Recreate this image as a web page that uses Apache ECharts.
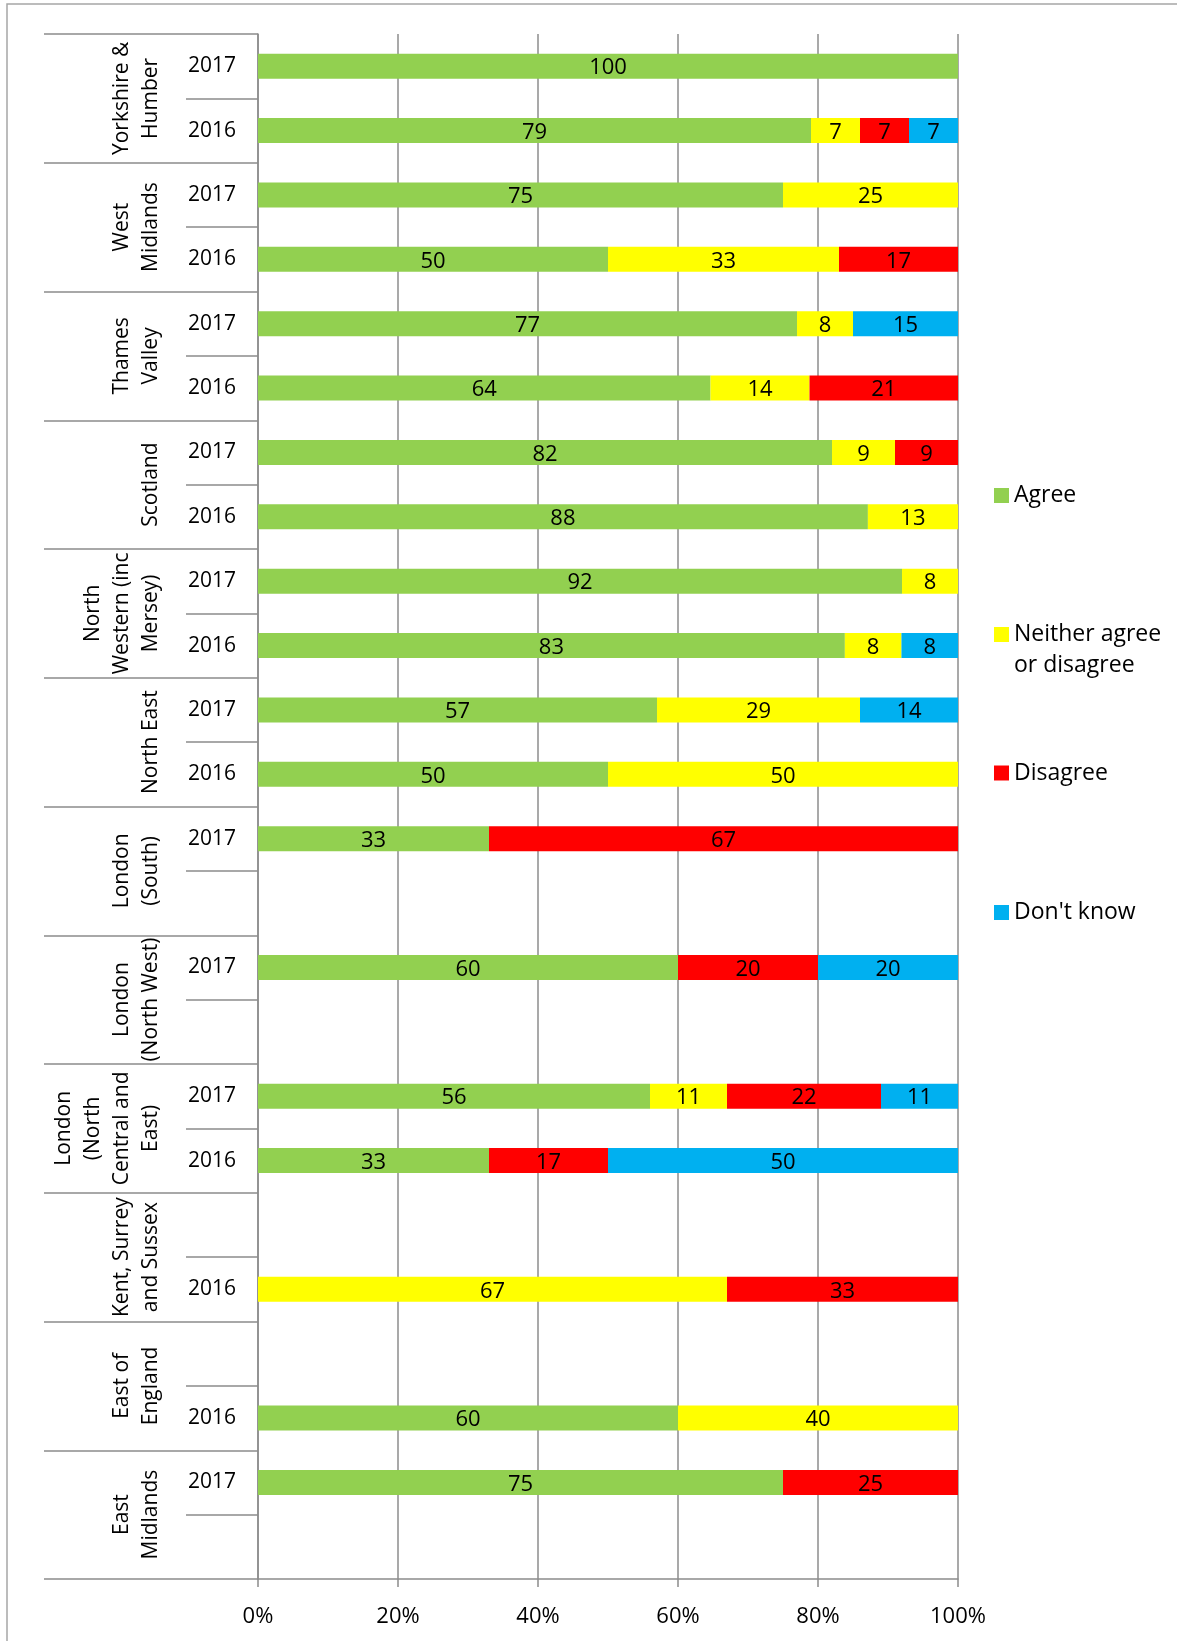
<!DOCTYPE html>
<html>
<head>
<meta charset="utf-8">
<script src="https://cdn.jsdelivr.net/npm/echarts@6/dist/echarts.min.js"></script>
<style>
  html, body { margin: 0; padding: 0; background: #fff; }
  #main { width: 1177px; height: 1641px; }
</style>
</head>
<body>
<div id="main"></div>
<script>
// regions, top to bottom (two rows each)
const regions = [
  'Yorkshire &\nHumber', 'West\nMidlands', 'Thames\nValley', 'Scotland',
  'North\nWestern (inc\nMersey)', 'North East', 'London\n(South)', 'London\n(North West)',
  'London\n(North\nCentral and\nEast)', 'Kent, Surrey\nand Sussex', 'East of\nEngland', 'East\nMidlands'
];
const years = [
  '2017', '2016', '2017', '2016', '2017', '2016', '2017', '2016',
  '2017', '2016', '2017', '2016', '2017', '', '2017', '',
  '2017', '2016', '', '2016', '', '2016', '2017', ''
];
const agree    = [100, 79, 75, 50, 77, 64, 82, 88, 92, 83, 57, 50, 33, null, 60, null, 56, 33, null, null, null, 60, 75, null];
const neither  = [null, 7, 25, 33, 8, 14, 9, 13, 8, 8, 29, 50, null, null, null, null, 11, null, null, 67, null, 40, null, null];
const disagree = [null, 7, null, 17, null, 21, 9, null, null, null, null, null, 67, null, 20, null, 22, 17, null, 33, null, null, 25, null];
const dontKnow = [null, 7, null, null, 15, null, null, null, null, 8, 14, null, null, null, 20, null, 11, 50, null, null, null, null, null, null];

const seriesNames = ['Agree', 'Neither agree or disagree', 'Disagree', "Don't know"];
const seriesColors = ['#92D050', '#FFFF00', '#FF0000', '#00B0F0'];
const raw = [agree, neither, disagree, dontKnow];

// 100% stacked: bar length is share of the row total
const totals = years.map((y, i) => raw.reduce((s, arr) => s + (arr[i] || 0), 0));
const pct = raw.map(arr => arr.map((v, i) => v == null ? null : v / totals[i] * 100));

const FONT = 'Open Sans';
const GRAY = '#8c8c8c';

var myChart = echarts.init(document.getElementById('main'));

const legendTops = [480, 588, 757.5, 897];

myChart.setOption({
  animation: false,
  textStyle: { fontFamily: FONT },
  graphic: [{
    type: 'rect',
    shape: { x: 7, y: 4, width: 1300, height: 1800 },
    style: { fill: 'none', stroke: '#a6a6a6', lineWidth: 1.5 },
    silent: true
  }],
  grid: { left: 258, top: 34, width: 700, height: 1545, outerBoundsMode: 'none' },
  legend: seriesNames.map((name, i) => ({
    data: [name],
    orient: 'vertical',
    left: 994,
    top: legendTops[i],
    padding: 0,
    icon: 'rect',
    itemWidth: 15,
    itemHeight: 15,
    selectedMode: false,
    formatter: n => n === 'Neither agree or disagree' ? '\nNeither agree\nor disagree' : n,
    textStyle: { fontFamily: FONT, fontSize: 23, lineHeight: 31, color: '#000' }
  })),
  xAxis: {
    type: 'value',
    min: 0,
    max: 100,
    interval: 20,
    axisLine: { show: true, lineStyle: { color: GRAY, width: 1.5 } },
    axisTick: { show: true, length: 8, lineStyle: { color: GRAY, width: 1.5 } },
    splitLine: { show: true, lineStyle: { color: GRAY, width: 1.5 } },
    axisLabel: { formatter: '{value}%', fontFamily: FONT, fontSize: 22, color: '#000', margin: 27 }
  },
  yAxis: [{
    type: 'category',
    data: years,
    inverse: true,
    position: 'left',
    axisLine: { show: true, lineStyle: { color: GRAY, width: 1.5 } },
    axisTick: { show: true, length: 72, interval: 0, lineStyle: { color: GRAY, width: 1.5 } },
    axisLabel: { interval: 0, fontFamily: FONT, fontSize: 21, color: '#000', margin: 22 }
  }, {
    type: 'category',
    data: regions,
    inverse: true,
    position: 'left',
    offset: 0,
    axisLine: { show: false },
    axisTick: { show: true, length: 214, interval: 0, lineStyle: { color: GRAY, width: 1.5 } },
    axisLabel: { interval: 0, rotate: 90, fontFamily: FONT, fontSize: 21, lineHeight: 29, color: '#000', margin: 92 }
  }],
  series: seriesNames.map((name, s) => ({
    name: name,
    type: 'bar',
    stack: 'total',
    yAxisIndex: 0,
    barWidth: 25,
    itemStyle: { color: seriesColors[s] },
    label: {
      show: true,
      position: 'inside',
      offset: [0, 2],
      color: '#000',
      fontFamily: FONT,
      fontSize: 22,
      formatter: p => raw[s][p.dataIndex]
    },
    data: pct[s]
  }))
});
</script>
</body>
</html>
